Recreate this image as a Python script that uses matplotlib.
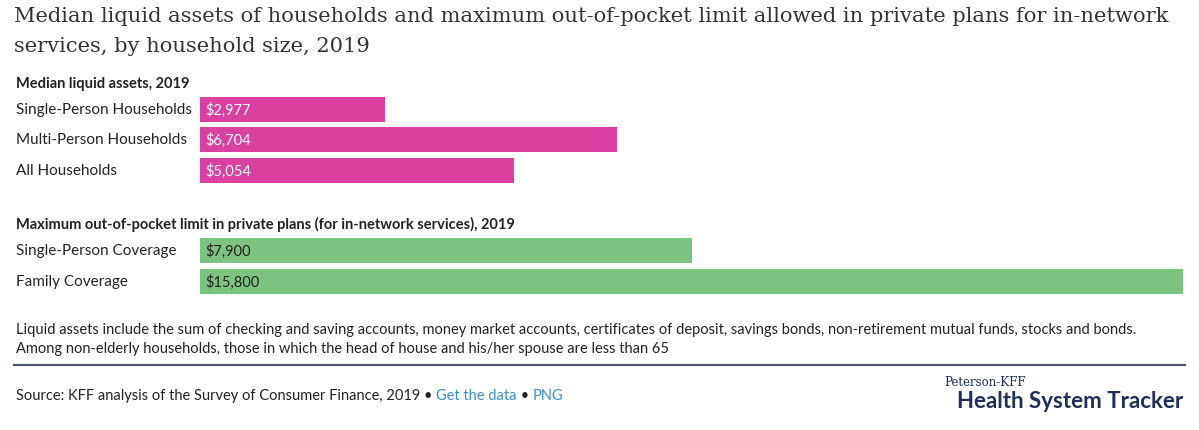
import matplotlib
matplotlib.use("Agg")
import matplotlib.pyplot as plt

plt.rcParams["font.family"] = ["Lato", "DejaVu Sans"]

assets_labels = ["Single-Person Households", "Multi-Person Households", "All Households"]
assets_values = [2977, 6704, 5054]
oop_labels = ["Single-Person Coverage", "Family Coverage"]
oop_values = [7900, 15800]

W, H = 1199, 431
fig = plt.figure(figsize=(W/100, H/100), dpi=100)
ax = fig.add_axes([200/W, 0, 983/W, 1])
ax.set_xlim(0, 15800)
ax.set_ylim(H, 0)
ax.axis("off")

pink, green = "#d9409f", "#7cc382"
rows_a = [110, 140, 171]
rows_o = [251, 282]
for y, v, l in zip(rows_a, assets_values, assets_labels):
    ax.barh(y, v, height=25, color=pink)
    ax.text(90, y, f"${v:,}", color="white", va="center", fontsize=10.5)
    fig.text(16/W, 1-y/H, l, va="center", fontsize=11, color="#222")
for y, v, l in zip(rows_o, oop_values, oop_labels):
    ax.barh(y, v, height=25, color=green)
    ax.text(90, y, f"${v:,}", color="#222", va="center", fontsize=10.5)
    fig.text(16/W, 1-y/H, l, va="center", fontsize=11, color="#222")

def T(x, y, s, **k):
    fig.text(x/W, 1-y/H, s, va="center", **k)

T(14, 16, "Median liquid assets of households and maximum out-of-pocket limit allowed in private plans for in-network",
  fontsize=15.1, family="DejaVu Serif", color="#333")
T(14, 46, "services, by household size, 2019", fontsize=15.1, family="DejaVu Serif", color="#333")
T(16, 84, "Median liquid assets, 2019", fontsize=10.5, weight="bold", color="#222")
T(16, 224, "Maximum out-of-pocket limit in private plans (for in-network services), 2019", fontsize=10.5, weight="bold", color="#222")
T(16, 330, "Liquid assets include the sum of checking and saving accounts, money market accounts, certificates of deposit, savings bonds, non-retirement mutual funds, stocks and bonds.",
  fontsize=10.5, color="#222")
T(16, 349, "Among non-elderly households, those in which the head of house and his/her spouse are less than 65", fontsize=10.5, color="#222")
fig.add_artist(plt.Line2D([14/W, 1185/W], [1-366/H, 1-366/H], color="#4a5670", lw=1.5))
t = fig.text(16/W, 1-396/H, "Source: KFF analysis of the Survey of Consumer Finance, 2019 \u2022 ", va="center", fontsize=10.5, color="#222")
fig.canvas.draw()
bb = t.get_window_extent()
t2 = fig.text(bb.x1/W, 1-396/H, "Get the data", va="center", fontsize=10.5, color="#3a8fd0")
fig.canvas.draw()
bb2 = t2.get_window_extent()
t3 = fig.text(bb2.x1/W, 1-396/H, " \u2022 ", va="center", fontsize=10.5, color="#222")
fig.canvas.draw()
bb3 = t3.get_window_extent()
fig.text(bb3.x1/W, 1-396/H, "PNG", va="center", fontsize=10.5, color="#3a8fd0")
fig.text(985/W, 1-382/H, "Peterson-KFF", va="center", ha="center", fontsize=8.5, family="DejaVu Serif", color="#1f2f5a")
fig.text(1183/W, 1-402/H, "Health System Tracker", va="center", ha="right", fontsize=16, weight="bold", color="#1f2f5a")
fig.savefig("out.png", dpi=100, facecolor="white")
